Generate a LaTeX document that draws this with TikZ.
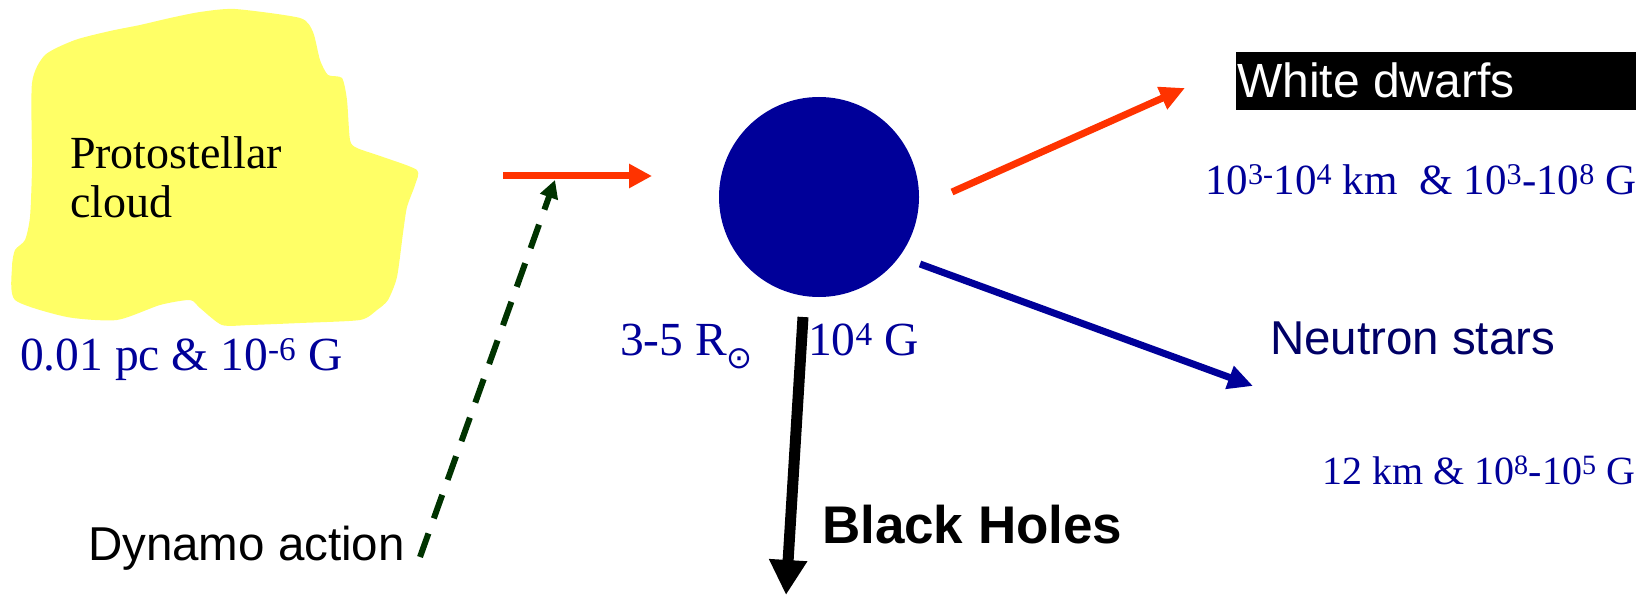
\documentclass[tikz,border=0pt]{standalone}
\usepackage{fontspec}
\setmainfont{Liberation Serif}
\setsansfont{Liberation Sans}
\newfontfamily\symbolfont{DejaVu Sans}
\usetikzlibrary{arrows.meta}
\definecolor{cloudyellow}{HTML}{FFFF66}
\definecolor{starblue}{HTML}{000099}
\definecolor{navytext}{HTML}{000066}
\definecolor{arrowred}{HTML}{FF3300}
\definecolor{dyngreen}{HTML}{003300}
\begin{document}
\begin{tikzpicture}[x=1pt,y=-1pt,
  lbl/.style={anchor=base west, inner sep=0pt, outer sep=0pt},
  serifblue/.style={lbl, text=starblue, font=\fontsize{47.5}{56}\selectfont},
  serifsmall/.style={lbl, text=starblue, font=\fontsize{43}{50}\selectfont},
  serifsmaller/.style={lbl, text=starblue, font=\fontsize{40}{48}\selectfont},
  sanslbl/.style={lbl, font=\sffamily\fontsize{47.5}{55}\selectfont},
  thinarrow/.style={line width=7pt, -{Triangle[length=25pt,width=23pt]}},
]
\useasboundingbox (0,0) rectangle (1645,596);

% protostellar cloud
\fill[cloudyellow] plot[smooth cycle, tension=0.4] coordinates {
  (32,83) (45,55) (75,40) (110,31) (140,25) (170,18) (200,12) (235,9)
  (300,18) (313,32) (320,60) (328,75) (342,78) (347,100) (350,140)
  (357,148) (383,157) (417,170) (415,185) (407,207) (403,233) (397,277)
  (388,300) (377,310) (360,320) (300,323) (250,325) (222,325) (200,308)
  (190,300) (160,305) (117,320) (67,317) (15,300) (12,267) (15,250)
  (25,240) (30,217) (32,167)};
\node[lbl, font=\fontsize{46}{49}\selectfont] (cloudA) at (70,168) {Protostellar};
\node[lbl, font=\fontsize{46}{49}\selectfont] (cloudB) at (70,217) {cloud};
\node[serifblue] (cloudinfo) at (20,370) {0.01 pc \& 10\textsuperscript{-6} G};

% dynamo
\node[sanslbl] (dynamo) at (88,560) {Dynamo action};

% star
\node[circle, fill=starblue, minimum size=200pt, inner sep=0pt] (star) at (819,197) {};
\node[serifblue] (radius) at (620,355)
  {3-5 R\raisebox{-13pt}{\symbolfont\fontsize{31}{31}\selectfont ⊙}};
\node[serifblue] (field) at (808,355) {10\textsuperscript{4} G};

% arrow coordinates
\coordinate (inS) at (503,176);
\coordinate (inE) at (652,176);
\coordinate (dynS) at (420,557);
\coordinate (dynE) at (555,180);
\coordinate (wdS) at (952,192);
\coordinate (wdE) at (1185,88);
\coordinate (nsS) at (920,264);
\coordinate (nsE) at (1253,386);
\coordinate (bhS) at (803,317);
\coordinate (bhE) at (786,595);

\draw[arrowred, line width=7pt, -{Triangle[length=23pt,width=23pt]}] (inS) -- (inE);
\draw[dyngreen, line width=6pt, dash pattern=on 25pt off 16pt,
      -{Triangle[length=18pt,width=18pt]}] (dynS) -- (dynE);
\draw[arrowred, thinarrow] (wdS) -- (wdE);
\draw[starblue, thinarrow] (nsS) -- (nsE);
\draw[black, line width=11pt, -{Triangle[length=35pt,width=36pt]}] (bhS) -- (bhE);

% white dwarfs
\node[fill=black, anchor=north west, minimum width=400pt, minimum height=58pt,
      inner sep=0pt] (wdbox) at (1236,52) {};
\node[sanslbl, text=white, font=\sffamily\fontsize{48}{55}\selectfont] (wd) at (1237,98) {White dwarfs};
\node[serifsmall] (wdinfo) at (1205,194)
  {10\textsuperscript{3-}10\textsuperscript{4} km \ \& 10\textsuperscript{3}-10\textsuperscript{8} G};

% neutron stars
\node[lbl, text=navytext, font=\sffamily\fontsize{47.5}{56}\selectfont] (ns) at (1270,354) {Neutron stars};
\node[serifsmaller] (nsinfo) at (1322,484) {12 km \& 10\textsuperscript{8}-10\textsuperscript{5} G};

% black holes
\node[lbl, font=\sffamily\bfseries\fontsize{53}{62}\selectfont] (bh) at (822,543) {Black Holes};
\end{tikzpicture}
\end{document}
